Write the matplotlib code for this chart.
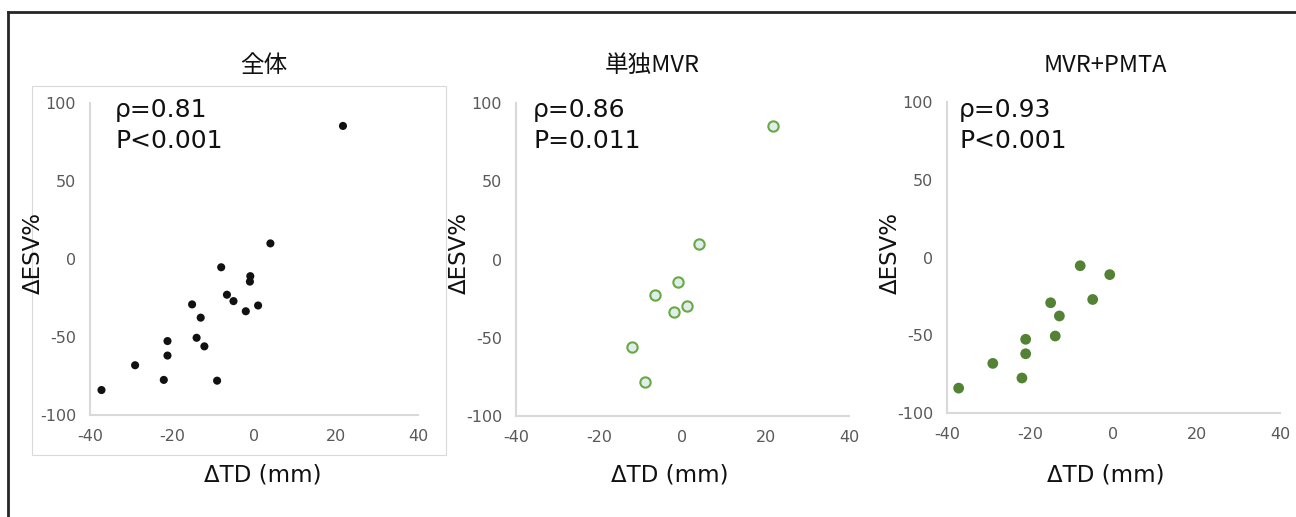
import numpy as np
import matplotlib.pyplot as plt
from matplotlib.lines import Line2D
from matplotlib.patches import Rectangle

plt.rcParams['font.family'] = ['DejaVu Sans', 'Noto Sans CJK JP']
plt.rcParams['axes.unicode_minus'] = False

# 単独MVR
mvr_td = [21.7, 4.0, -1.0, -6.6, 1.0, -2.0, -12.1, -9.0]
mvr_esv = [85.3, 10.0, -14.5, -22.9, -29.8, -33.5, -56.0, -78.0]

# MVR+PMTA
pmta_td = [-8.0, -0.9, -5.0, -15.1, -13.0, -14.0, -21.1, -21.1, -29.0, -22.0, -37.2]
pmta_esv = [-5.3, -11.0, -27.0, -29.1, -37.6, -50.5, -52.6, -61.9, -68.1, -77.5, -84.0]

# 全体 = both groups
all_td = mvr_td + pmta_td
all_esv = mvr_esv + pmta_esv

titles = ['全体', '単独MVR', 'MVR+PMTA']
rho_text = ['ρ=0.81', 'ρ=0.86', 'ρ=0.93']
p_text = ['P<0.001', 'P=0.011', 'P<0.001']

W, H = 1296, 517
fig = plt.figure(figsize=(W / 100, H / 100), dpi=100)


def px_axes(x0, y0, x1, y1):
    # pixel box (top-left origin) -> figure axes
    return fig.add_axes([x0 / W, (H - y1) / H, (x1 - x0) / W, (y1 - y0) / H])


def fx(x):
    return x / W


def fy(y):
    return (H - y) / H


# outer frame
fig.add_artist(Line2D([fx(8), fx(8)], [fy(12), 0], color='#262626', lw=2))
fig.add_artist(Line2D([fx(8), 1], [fy(12), fy(12)], color='#262626', lw=2))
# chart area outline of first panel
fig.add_artist(Rectangle((fx(32), fy(455)), fx(446) - fx(32), fy(86) - fy(455),
                         fill=False, edgecolor='#d9d9d9', lw=0.8))

boxes = [(90, 103, 418, 415), (516, 103, 849, 416), (947, 102, 1280, 413)]
title_x = [264, 652, 1105]
xlabel_x = [263, 670, 1106]
text_x = [115, 533, 959]

series = [
    (all_td, all_esv, dict(s=34, c='#111111', edgecolors='none')),
    (mvr_td, mvr_esv, dict(s=55, c='#dfeeec', edgecolors='#6aa843', linewidths=1.5)),
    (pmta_td, pmta_esv, dict(s=60, c='#548235', edgecolors='none')),
]

for i, (x, y, style) in enumerate(series):
    x0, y0, x1, y1 = boxes[i]
    ax = px_axes(x0, y0, x1, y1)
    ax.scatter(x, y, zorder=3, **style)
    ax.set_xlim(-40, 40)
    ax.set_ylim(-100, 100)
    ax.set_xticks(np.arange(-40, 41, 20))
    ax.set_yticks(np.arange(-100, 101, 50))
    for side in ['top', 'right']:
        ax.spines[side].set_visible(False)
    for side in ['left', 'bottom']:
        ax.spines[side].set_color('#d9d9d9')
        ax.spines[side].set_linewidth(1.5)
    ax.tick_params(length=0, labelsize=11.5, labelcolor='#595959', pad=10)
    ax.patch.set_alpha(0)

    ax.text(fx(text_x[i]), fy(117), rho_text[i], transform=fig.transFigure,
            fontsize=18, color='#111111', va='baseline', ha='left')
    ax.text(fx(text_x[i]), fy(148), p_text[i], transform=fig.transFigure,
            fontsize=18, color='#111111', va='baseline', ha='left')

    fig.text(fx(title_x[i]), fy(65), titles[i], fontsize=17, color='#111111',
             ha='center', va='center', family=['Noto Sans CJK JP', 'DejaVu Sans'])
    fig.text(fx(xlabel_x[i]), fy(475), 'ΔTD (mm)', fontsize=16.5, color='#111111',
             ha='center', va='center')
    fig.text(fx(x0 - 57), fy(253), 'ΔESV%', fontsize=16.5, color='#111111',
             ha='center', va='center', rotation=90)

fig.savefig('out.png', dpi=100, facecolor='white')
